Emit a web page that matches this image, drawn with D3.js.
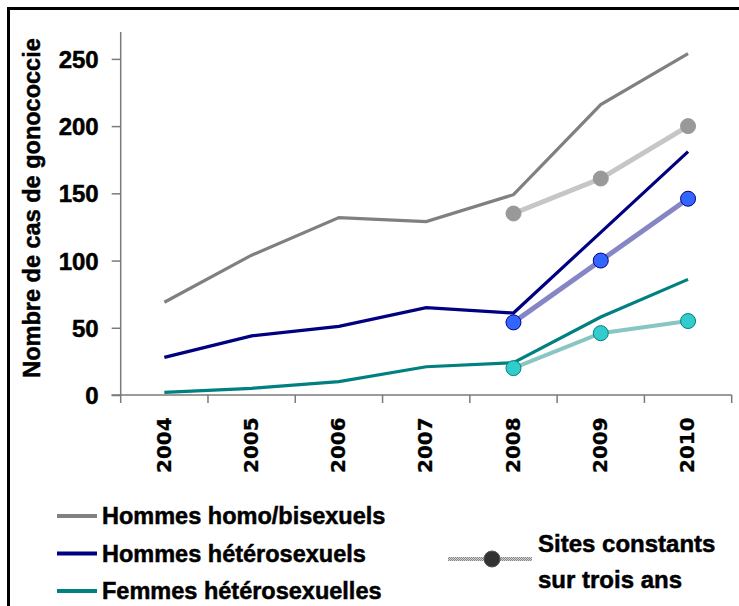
<!DOCTYPE html>
<html>
<head>
<meta charset="utf-8">
<script src="https://cdn.jsdelivr.net/npm/d3@7/dist/d3.min.js"></script>
<style>
  body { margin: 0; background: #fff; }
  svg { display: block; }
  text { font-family: "Liberation Sans", Arial, sans-serif; font-weight: bold; fill: #000; stroke: #000; stroke-width: 0.5px; }
  .year { font-family: "DejaVu Sans", Verdana, sans-serif; stroke-width: 0.3px; }
</style>
</head>
<body>
<svg id="chart" width="739" height="606"></svg>
<script>
const years = ['2004', '2005', '2006', '2007', '2008', '2009', '2010'];
const yTicks = [0, 50, 100, 150, 200, 250];

// all sites
const hommesHomo = [69, 104, 132, 129, 149, 216, 254];
const hommesHetero = [28, 44, 51, 65, 61, 121, 181];
const femmesHetero = [2, 5, 10, 21, 24, 58, 86];

// sites constants sur trois ans (2008-2010)
const constYears = ['2008', '2009', '2010'];
const constHomo = [135, 161, 200];
const constHetero = [54, 100, 146];
const constFemmes = [20, 46, 55];

const series = [
  { name: 'Hommes homo/bisexuels', values: hommesHomo, color: '#808080' },
  { name: 'Hommes hétérosexuels', values: hommesHetero, color: '#000080' },
  { name: 'Femmes hétérosexuelles', values: femmesHetero, color: '#008080' }
];
const constSeries = [
  { values: constHomo, line: '#c6c6c6', width: 5, fill: '#999999', stroke: '#999999' },
  { values: constHetero, line: '#8686c6', width: 5, fill: '#3366ff', stroke: '#000080' },
  { values: constFemmes, line: '#88c6c3', width: 4, fill: '#33cccc', stroke: '#008080' }
];

const svg = d3.select('#chart');
const axisColor = '#7a7a7a';

// frame
svg.append('rect')
  .attr('x', 8.5).attr('y', 8.5)
  .attr('width', 800).attr('height', 700)
  .attr('fill', 'none').attr('stroke', '#000').attr('stroke-width', 3);

const x = d3.scaleBand().domain(years).range([120.7, 731.7]);
const y = d3.scaleLinear().domain([0, 270]).range([395, 32]);
const cx = (yr) => x(yr) + x.bandwidth() / 2;

// y axis
const yAxis = svg.append('g')
  .attr('transform', 'translate(120.7,0)')
  .call(d3.axisLeft(y).tickValues(yTicks).tickSize(9).tickPadding(13));
yAxis.select('.domain').attr('d', `M0,${y(270)}V403`);
yAxis.selectAll('line, path').attr('stroke', axisColor).attr('stroke-width', 1.5);
yAxis.selectAll('text')
  .attr('font-size', 24)
  .attr('font-family', '"Liberation Sans", Arial, sans-serif')
  .attr('font-weight', 'bold')
  .attr('fill', '#000')
  .attr('dy', '0.36em');

// x axis
const xAxis = svg.append('g').attr('transform', 'translate(0,395)');
xAxis.append('line')
  .attr('x1', 111.5).attr('x2', 731.7)
  .attr('stroke', axisColor).attr('stroke-width', 1.5);
xAxis.selectAll('line.tick')
  .data(years)
  .join('line')
  .attr('class', 'tick')
  .attr('x1', (d) => x(d) + x.bandwidth()).attr('x2', (d) => x(d) + x.bandwidth())
  .attr('y1', 0).attr('y2', 8)
  .attr('stroke', axisColor).attr('stroke-width', 1.5);
xAxis.selectAll('text')
  .data(years)
  .join('text')
  .attr('class', 'year')
  .attr('transform', (d) => `translate(${cx(d) - 1},78) rotate(-90)`)
  .attr('dy', '0.36em')
  .attr('font-size', 20)
  .text((d) => d);

// y axis title
svg.append('text')
  .attr('transform', 'translate(32,208) rotate(-90)')
  .attr('text-anchor', 'middle')
  .attr('dy', '0.36em')
  .attr('font-size', 23.5)
  .text('Nombre de cas de gonococcie');

// main lines
const line = d3.line().x((d, i) => cx(years[i])).y((d) => y(d));
svg.selectAll('path.serie')
  .data(series)
  .join('path')
  .attr('class', 'serie')
  .attr('d', (d) => line(d.values))
  .attr('fill', 'none')
  .attr('stroke', (d) => d.color)
  .attr('stroke-width', 3.2);

// constant sites
const constLine = d3.line().x((d, i) => cx(constYears[i])).y((d) => y(d));
const cg = svg.selectAll('g.const')
  .data(constSeries)
  .join('g')
  .attr('class', 'const');
cg.append('path')
  .attr('d', (d) => constLine(d.values))
  .attr('fill', 'none')
  .attr('stroke', (d) => d.line)
  .attr('stroke-width', (d) => d.width);
cg.selectAll('circle')
  .data((d) => d.values.map((v, i) => ({ v, yr: constYears[i], s: d })))
  .join('circle')
  .attr('cx', (d) => cx(d.yr))
  .attr('cy', (d) => y(d.v))
  .attr('r', 7.5)
  .attr('fill', (d) => d.s.fill)
  .attr('stroke', (d) => d.s.stroke)
  .attr('stroke-width', 1);

// legend
const legend = svg.append('g');
const rows = legend.selectAll('g')
  .data(series)
  .join('g')
  .attr('transform', (d, i) => `translate(0,${516 + i * 37.5})`);
rows.append('line')
  .attr('x1', 57).attr('x2', 97)
  .attr('stroke', (d) => d.color)
  .attr('stroke-width', 4);
rows.append('text')
  .attr('x', 102).attr('dy', '0.36em')
  .attr('font-size', 23.5)
  .text((d) => d.name);

// hatched sample for the constant sites
const defs = svg.append('defs');
const pat = defs.append('pattern')
  .attr('id', 'hatch')
  .attr('patternUnits', 'userSpaceOnUse')
  .attr('width', 2).attr('height', 2);
pat.append('rect').attr('width', 2).attr('height', 2).attr('fill', '#d0d0d0');
pat.append('rect').attr('width', 1).attr('height', 1).attr('fill', '#8a8a8a');
pat.append('rect').attr('x', 1).attr('y', 1).attr('width', 1).attr('height', 1).attr('fill', '#8a8a8a');

legend.append('rect')
  .attr('x', 448).attr('y', 557)
  .attr('width', 84).attr('height', 4)
  .attr('fill', 'url(#hatch)');
legend.append('circle')
  .attr('cx', 492).attr('cy', 559)
  .attr('r', 8)
  .attr('fill', '#333').attr('stroke', '#555');
legend.append('text')
  .attr('x', 538).attr('y', 552)
  .attr('font-size', 24)
  .text('Sites constants');
legend.append('text')
  .attr('x', 538).attr('y', 588)
  .attr('font-size', 24)
  .text('sur trois ans');
</script>
</body>
</html>
